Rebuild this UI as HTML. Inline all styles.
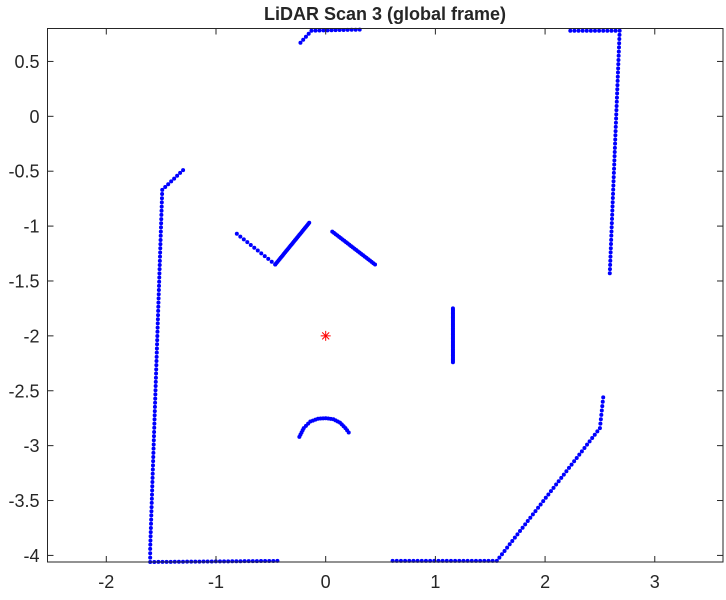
<!DOCTYPE html>
<html><head><meta charset="utf-8"><style>
body{margin:0;background:#fff;}
svg text{font-family:"Liberation Sans",Arial,sans-serif;fill:#262626;}
</style></head><body>
<svg id="chart" width="726" height="595">
<text x="385" y="20" text-anchor="middle" font-size="18" font-weight="bold" fill="#000">LiDAR Scan 3 (global frame)</text>
<g id="marks"></g>
<rect x="47.5" y="28.5" width="675.5" height="533.5" fill="none" stroke="#262626" stroke-width="1"/>
<g id="ticks"></g>
</svg>
<script>
// Scan polylines (global frame): vertices in metres, sampled with the given spacing
const wallLeftX = [-1.30,-1.49,-1.60,-1.60,-0.44];
const wallLeftY = [-0.49,-0.67,-3.94,-4.06,-4.05];
const wallBottomRightX = [0.61,1.56,2.50,2.53];
const wallBottomRightY = [-4.05,-4.05,-2.84,-2.56];
const wallRightX = [2.23,2.68,2.59];
const wallRightY = [0.78,0.78,-1.43];
const wallTopX = [-0.23,-0.13,0.31];
const wallTopY = [0.67,0.78,0.79];
const obstacleAX = [-0.81,-0.46];
const obstacleAY = [-1.07,-1.35];
const obstacleBX = [-0.46,-0.15];
const obstacleBY = [-1.35,-0.97];
const obstacleCX = [0.06,0.45];
const obstacleCY = [-1.05,-1.35];
const obstacleDX = [1.16,1.16];
const obstacleDY = [-1.75,-2.24];
const arcX = [-0.24,-0.20,-0.14,-0.07,0.0,0.07,0.13,0.18,0.21];
const arcY = [-2.92,-2.84,-2.78,-2.755,-2.75,-2.76,-2.79,-2.84,-2.88];
const robotX = [0];
const robotY = [-2];
const segments = [
 [wallLeftX,wallLeftY,0.038,'wall-left'],
 [wallBottomRightX,wallBottomRightY,0.038,'wall-bottom-right'],
 [wallRightX,wallRightY,0.038,'wall-right'],
 [wallTopX,wallTopY,0.038,'wall-top'],
 [obstacleAX,obstacleAY,0.04,'obstacle-a'],
 [obstacleBX,obstacleBY,0.016,'obstacle-b'],
 [obstacleCX,obstacleCY,0.02,'obstacle-c'],
 [obstacleDX,obstacleDY,0.012,'obstacle-d'],
 [arcX,arcY,0.025,'obstacle-arc']
];
const xTicks = [-2,-1,0,1,2,3];
const yTicks = [0.5,0,-0.5,-1,-1.5,-2,-2.5,-3,-3.5,-4];
const xMin=-2.536, xMax=3.622, yMin=-4.06, yMax=0.80;
const L=47.5,R=723,T=28.5,B=562;
const sx=v=>L+(v-xMin)/(xMax-xMin)*(R-L);
const sy=v=>B-(v-yMin)/(yMax-yMin)*(B-T);
const NS='http://www.w3.org/2000/svg';
const marks=document.getElementById('marks');
const ticks=document.getElementById('ticks');
function mk(tag,attrs,parent){const e=document.createElementNS(NS,tag);for(const k in attrs)e.setAttribute(k,attrs[k]);parent.appendChild(e);return e;}
segments.forEach(s=>{
 const xs=s[0],ys=s[1],step=s[2];
 const g=mk('g',{},marks);
 
 
 for(let i=0;i<xs.length-1;i++){
  const dx=xs[i+1]-xs[i],dy=ys[i+1]-ys[i];
  const len=Math.hypot(dx,dy);const n=Math.max(1,Math.round(len/step));
  for(let j=0;j<=n;j++){
   if(i>0&&j===0)continue;
   const c=mk('circle',{cx:sx(xs[i]+dx*j/n),cy:sy(ys[i]+dy*j/n),r:2,fill:'#0000ff'},g);
   
   
  }
 }
});
robotX.forEach((x,i)=>{
 const cx=sx(x),cy=sy(robotY[i]);
 const g=mk('g',{stroke:'#ff0000','stroke-width':1},marks);
 
 
 mk('line',{x1:cx-5,y1:cy,x2:cx+5,y2:cy},g);
 mk('line',{x1:cx,y1:cy-5,x2:cx,y2:cy+5},g);
 mk('line',{x1:cx-3.5,y1:cy-3.5,x2:cx+3.5,y2:cy+3.5},g);
 mk('line',{x1:cx-3.5,y1:cy+3.5,x2:cx+3.5,y2:cy-3.5},g);
});
xTicks.forEach(v=>{
 const x=sx(v);
 mk('line',{x1:x,y1:B,x2:x,y2:B-6,stroke:'#262626'},ticks);
 mk('line',{x1:x,y1:T,x2:x,y2:T+6,stroke:'#262626'},ticks);
 const t=mk('text',{x:x,y:B+26,'text-anchor':'middle','font-size':18},ticks);
 t.textContent=String(v);
 
 
});
yTicks.forEach(v=>{
 const y=sy(v);
 mk('line',{x1:L,y1:y,x2:L+6,y2:y,stroke:'#262626'},ticks);
 mk('line',{x1:R,y1:y,x2:R-6,y2:y,stroke:'#262626'},ticks);
 const t=mk('text',{x:L-8,y:y+6.5,'text-anchor':'end','font-size':18},ticks);
 t.textContent=String(v);
 
 
});
</script>
</body></html>
